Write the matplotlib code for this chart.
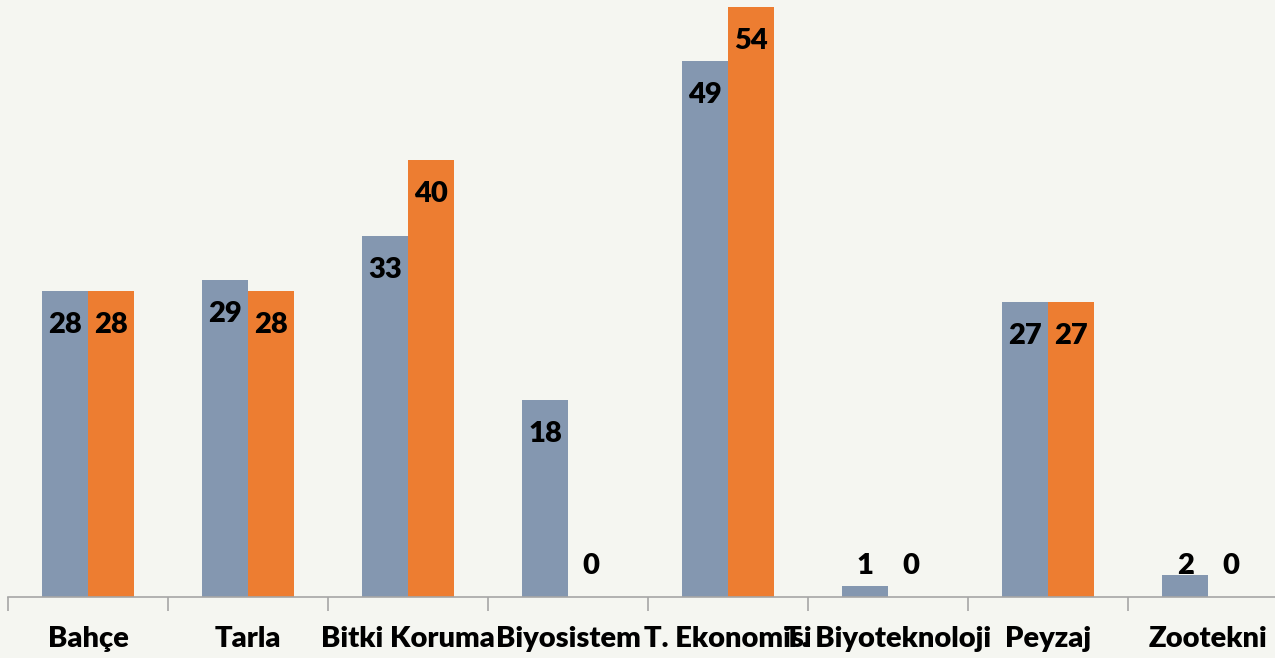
import matplotlib.pyplot as plt
import numpy as np

categories = ['Bahçe', 'Tarla', 'Bitki Koruma', 'Biyosistem', 'T. Ekonomisi',
              'T. Biyoteknoloji', 'Peyzaj', 'Zootekni']
series_a = [28, 29, 33, 18, 49, 1, 27, 2]
series_b = [28, 28, 40, 0, 54, 0, 27, 0]

bg = '#f5f6f1'
blue = '#8497b0'
orange = '#ed7d31'

plt.rcParams['font.family'] = ['Lato', 'DejaVu Sans']

fig = plt.figure(figsize=(12.75, 6.58), dpi=100, facecolor=bg)
ax = fig.add_axes([8/1275, 61/658, 1280/1275, 597/658])
ax.set_facecolor(bg)

x = np.arange(len(categories))
w = 0.285
ax.bar(x - w/2, series_a, w, color=blue)
ax.bar(x + w/2, series_b, w, color=orange)

ppu = 597 / 54.6  # pixels per unit
for xs, vals in [(x - w/2, series_a), (x + w/2, series_b)]:
    for xi, v in zip(xs, vals):
        y = max(v - 34/ppu, 31/ppu)
        ax.text(xi, y, str(v), ha='center', va='center', fontsize=21,
                fontweight='heavy', color='black')

ax.set_xlim(-0.5, 7.5)
ax.set_ylim(0, 54.6)
ax.set_xticks(x)
ax.set_xticklabels(categories, fontsize=21, fontweight='heavy')
ax.set_xticks(np.arange(-0.5, 8, 1), minor=True)
ax.tick_params(axis='x', which='major', length=0, pad=21)
ax.tick_params(axis='x', which='minor', length=10, color='#a6a6a6', width=1.2)
ax.set_yticks([])
for s in ['top', 'right', 'left']:
    ax.spines[s].set_visible(False)
ax.spines['bottom'].set_color('#a6a6a6')
ax.spines['bottom'].set_linewidth(1.2)

fig.savefig('out.png', dpi=100, facecolor=bg)
